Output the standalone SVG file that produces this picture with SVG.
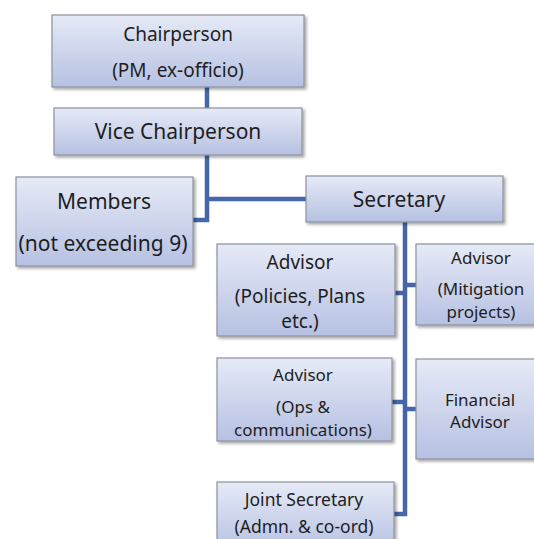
<svg xmlns="http://www.w3.org/2000/svg" width="534" height="539" viewBox="0 0 534 539">
<defs>
<linearGradient id="g" x1="0" y1="0" x2="0" y2="1">
<stop offset="0" stop-color="#e6eaf7"/>
<stop offset="1" stop-color="#b6c1e2"/>
</linearGradient>
<filter id="sh" x="-10%" y="-10%" width="125%" height="130%">
<feDropShadow dx="2" dy="2" stdDeviation="1.5" flood-color="#000" flood-opacity="0.35"/>
</filter>
</defs>
<style>
.b{fill:url(#g);stroke:#8c919c;stroke-width:1.2;filter:url(#sh)}
text{font-family:"Noto Sans","Open Sans",sans-serif;fill:#1e1e1e;text-anchor:middle}
.c{fill:none;stroke:#4566a8;stroke-width:4.5}
</style>
<rect width="534" height="539" fill="#fff"/>
<g id="connectors">
<path class="c" d="M207,87V108"/>
<path class="c" d="M207,155V220H193M207,199H306"/>
<path class="c" d="M405,222V514H394"/>
<path class="c" d="M405,293H395M405,285H416"/>
<path class="c" d="M405,402H392M405,409H416"/>
</g>
<g id="chair"><rect class="b" x="52" y="15" width="252" height="72"/>
<text x="178" y="41" font-size="19">Chairperson</text>
<text x="178" y="77" font-size="19">(PM, ex-officio)</text></g>
<g id="vice"><rect class="b" x="54" y="108" width="248" height="47"/>
<text x="178" y="139" font-size="21">Vice Chairperson</text></g>
<g id="members"><rect class="b" x="16" y="177" width="177" height="89"/>
<text x="104" y="209" font-size="21">Members</text>
<text x="103" y="251" font-size="21">(not exceeding 9)</text></g>
<g id="secretary"><rect class="b" x="306" y="176" width="197" height="46"/>
<text x="399" y="207" font-size="21">Secretary</text></g>
<g id="adv1"><rect class="b" x="217" y="244" width="178" height="92"/>
<text x="300" y="269" font-size="19">Advisor</text>
<text x="300" y="303" font-size="19">(Policies, Plans</text>
<text x="300" y="328" font-size="19">etc.)</text></g>
<g id="adv2"><rect class="b" x="416" y="244" width="120" height="81"/>
<text x="481" y="264" font-size="17">Advisor</text>
<text x="481" y="295" font-size="17">(Mitigation</text>
<text x="481" y="318" font-size="17">projects)</text></g>
<g id="adv3"><rect class="b" x="217" y="358" width="175" height="83"/>
<text x="303" y="381" font-size="17">Advisor</text>
<text x="303" y="413" font-size="17">(Ops &amp;</text>
<text x="303" y="436" font-size="17">communications)</text></g>
<g id="fin"><rect class="b" x="416" y="359" width="120" height="100"/>
<text x="480" y="406" font-size="17">Financial</text>
<text x="480" y="428" font-size="17">Advisor</text></g>
<g id="joint"><rect class="b" x="217" y="482" width="177" height="70"/>
<text x="304" y="506" font-size="17.5">Joint Secretary</text>
<text x="304" y="533" font-size="17.5">(Admn. &amp; co-ord)</text></g>
</svg>
